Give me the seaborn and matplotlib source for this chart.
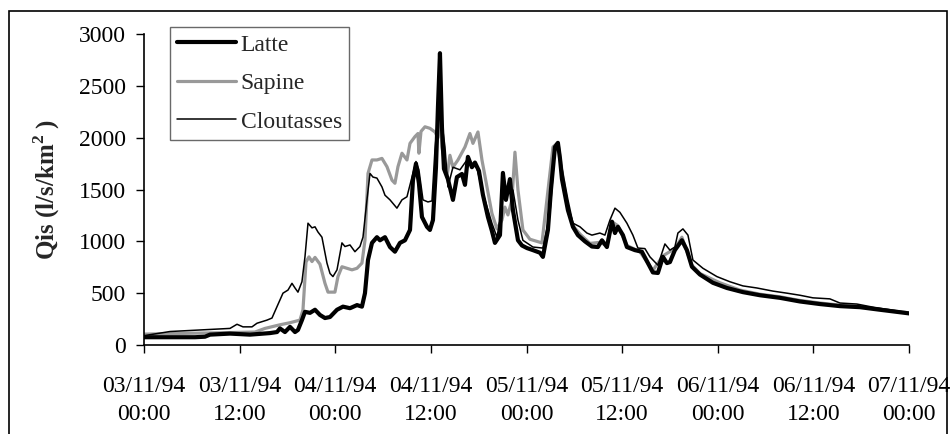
import matplotlib
matplotlib.use("Agg")
import matplotlib.pyplot as plt
import seaborn as sns
from matplotlib.patches import Rectangle

# hours since 03/11/94 00:00 and specific discharge (l/s/km2)
latte_hours = [0, 3.26, 6.40, 7.65, 8.28, 10.79, 13.30, 15.81, 16.69, 17.06, 17.69, 18.32,
               18.95, 19.32, 19.82, 20.20, 20.83, 21.46, 22.08, 22.71, 23.34, 24.22, 24.97,
               25.85, 26.73, 27.35, 27.73, 28.11, 28.61, 29.23, 29.61, 30.24, 30.87, 31.49,
               32.12, 32.75, 33.38, 33.75, 34.13, 34.50, 34.88, 35.51, 35.88, 36.26, 36.64,
               36.89, 37.14, 37.39, 37.64, 38.14, 38.77, 39.27, 39.90, 40.28, 40.65, 41.15,
               41.53, 42.03, 42.53, 43.16, 43.66, 44.04, 44.67, 45.04, 45.42, 45.92, 46.30,
               46.93, 47.43, 48.06, 48.81, 49.69, 50.06, 50.69, 51.07, 51.57, 51.94, 52.20,
               52.45, 53.20, 53.83, 54.45, 55.33, 56.21, 56.96, 57.47, 58.09, 58.72, 59.10,
               59.47, 60.10, 60.60, 61.61, 62.48, 63.24, 63.86, 64.49, 65.12, 65.62, 66.00,
               66.62, 67.50, 68.13, 68.76, 69.76, 71.39, 73.15, 75.16, 77.29, 79.80, 82.31,
               84.82, 87.33, 89.84, 92.35, 96.0]
latte_qis = [75, 75, 75, 80, 100, 110, 100, 115, 125, 160, 125, 175,
             125, 145, 240, 320, 310, 340, 290, 260, 270, 340, 370,
             355, 385, 370, 500, 820, 985, 1040, 1010, 1040, 945, 900,
             985, 1010, 1110, 1590, 1750, 1560, 1235, 1140, 1110, 1205, 1715,
             2300, 2815, 2100, 1700, 1600, 1400, 1620, 1650, 1545, 1815, 1715,
             1760, 1680, 1450, 1235, 1100, 985, 1060, 1660, 1400, 1600, 1300,
             1010, 960, 935, 915, 890, 850, 1110, 1500, 1910, 1950, 1800,
             1600, 1300, 1140, 1060, 1000, 950, 945, 1010, 945, 1190, 1080,
             1140, 1060, 945, 915, 900, 790, 700, 695, 850, 790, 800,
             915, 1010, 915, 755, 680, 600, 550, 510, 480, 455, 420,
             395, 375, 365, 340, 305]

sapine_hours = [0, 10.79, 13.93, 15.18, 17.06, 18.32, 19.57, 19.95, 20.33, 20.70, 21.08,
                21.46, 22.08, 22.71, 23.09, 23.96, 24.34, 24.84, 25.47, 26.10, 26.73, 27.35,
                27.73, 28.11, 28.61, 29.23, 29.86, 30.49, 31.12, 31.49, 31.87, 32.37, 33.00,
                33.38, 34.00, 34.38, 34.50, 34.76, 35.26, 35.88, 36.51, 36.89, 37.14, 37.39,
                38.02, 38.39, 38.77, 39.40, 40.28, 40.90, 41.28, 41.91, 42.41, 43.04, 43.66,
                44.29, 44.92, 45.29, 45.67, 46.17, 46.55, 46.93, 47.55, 48.43, 49.94, 51.32,
                51.94, 52.57, 53.20, 53.83, 54.71, 55.96, 57.21, 58.09, 58.72, 59.47, 60.60,
                62.23, 63.86, 65.12, 66.62, 67.50, 68.76, 69.76, 72.27, 74.78, 77.29, 79.80,
                82.31, 84.82, 87.33, 89.84, 92.35, 96.0]
sapine_qis = [105, 120, 125, 160, 195, 215, 240, 340, 800, 850, 805,
              845, 780, 595, 510, 510, 660, 755, 740, 725, 740, 790,
              1010, 1655, 1785, 1785, 1800, 1720, 1590, 1560, 1720, 1850, 1785,
              1945, 2010, 2040, 1850, 2060, 2105, 2090, 2055, 2000, 2270, 1910,
              1620, 1830, 1715, 1785, 1910, 2040, 1945, 2055, 1785, 1525, 1270,
              1120, 1205, 1330, 1255, 1400, 1860, 1495, 1110, 1020, 985, 1910,
              1950, 1620, 1310, 1150, 1070, 980, 990, 960, 1190, 1150, 960,
              900, 720, 860, 930, 1040, 770, 690, 600, 530, 490, 465,
              430, 405, 385, 370, 345, 310]

clout_hours = [0, 3.26, 7.03, 10.79, 11.67, 12.42, 13.55, 14.18, 15.43, 16.06, 16.69,
               17.44, 18.07, 18.57, 18.95, 19.32, 19.82, 20.20, 20.58, 21.08, 21.46, 21.83,
               22.33, 22.96, 23.34, 23.71, 24.22, 24.84, 25.22, 25.85, 26.47, 27.10, 27.48,
               27.98, 28.36, 28.73, 29.23, 29.86, 30.24, 30.87, 31.74, 32.37, 33.00, 33.63,
               34.13, 34.50, 35.01, 35.63, 36.14, 36.51, 36.89, 37.39, 37.77, 38.14, 38.77,
               39.65, 40.53, 41.15, 41.78, 42.53, 43.66, 44.29, 44.67, 45.04, 45.67, 46.30,
               46.93, 47.55, 48.81, 50.06, 50.94, 51.57, 51.94, 52.57, 53.20, 53.83, 54.71,
               55.58, 56.21, 57.21, 57.84, 58.47, 59.10, 59.72, 60.60, 61.35, 61.98, 62.86,
               63.49, 64.49, 65.37, 66.00, 66.62, 67.00, 67.63, 68.26, 68.88, 70.14, 71.89,
               73.53, 75.16, 76.91, 78.92, 80.68, 82.31, 83.94, 86.07, 87.33, 89.46, 91.47,
               93.60, 96.0]
clout_qis = [90, 130, 145, 160, 200, 175, 175, 210, 240, 260, 370,
             500, 530, 595, 550, 510, 610, 850, 1175, 1130, 1140, 1090,
             1040, 790, 690, 660, 725, 985, 950, 965, 900, 950, 1040,
             1400, 1655, 1620, 1610, 1525, 1445, 1400, 1320, 1400, 1430, 1620,
             1770, 1690, 1400, 1380, 1390, 1880, 2220, 2140, 1910, 1525, 1715,
             1690, 1785, 1750, 1705, 1465, 1175, 1040, 1205, 1560, 1495, 1495,
             1205, 1010, 945, 935, 1270, 1880, 1930, 1655, 1400, 1175, 1140,
             1080, 1060, 1080, 1060, 1205, 1320, 1280, 1175, 1060, 935, 930,
             850, 770, 975, 915, 945, 1080, 1120, 1060, 820, 740, 660,
             610, 570, 550, 520, 500, 480, 455, 445, 405, 395, 365,
             340, 310]

tick_hours = [0, 12, 24, 36, 48, 60, 72, 84, 96]
tick_labels = ["03/11/94\n00:00", "03/11/94\n12:00", "04/11/94\n00:00", "04/11/94\n12:00",
               "05/11/94\n00:00", "05/11/94\n12:00", "06/11/94\n00:00", "06/11/94\n12:00",
               "07/11/94\n00:00"]
y_ticks = [0, 500, 1000, 1500, 2000, 2500, 3000]

sns.set_style("white")
plt.rcParams['font.family'] = ['Liberation Serif', 'DejaVu Serif']
plt.rcParams['mathtext.fontset'] = 'custom'
plt.rcParams['mathtext.rm'] = 'Liberation Serif'
plt.rcParams['mathtext.bf'] = 'Liberation Serif:bold'

fig = plt.figure(figsize=(9.51, 4.34), dpi=100)
ax = fig.add_axes([144 / 951, 1 - 345 / 434, 765 / 951, 311 / 434])

# draw order: Sapine under Latte, Cloutasses on top
sns.lineplot(x=sapine_hours, y=sapine_qis, ax=ax, color="#999999", linewidth=2.3,
             label="Sapine", zorder=2)
sns.lineplot(x=latte_hours, y=latte_qis, ax=ax, color="black", linewidth=3.0,
             label="Latte", zorder=3)
sns.lineplot(x=clout_hours, y=clout_qis, ax=ax, color="black", linewidth=1.1,
             label="Cloutasses", zorder=4)

ax.set_xlim(0, 96)
ax.set_ylim(0, 3000)
ax.set_xticks(tick_hours)
ax.set_xticklabels(tick_labels, linespacing=1.45)
ax.set_yticks(y_ticks)
ax.tick_params(axis="x", direction="out", length=6, width=1, pad=16, labelsize=17,
               bottom=True, colors="black")
ax.tick_params(axis="y", direction="out", length=6, width=1, pad=7, labelsize=17,
               left=True, colors="black")
for s in ["top", "right"]:
    ax.spines[s].set_visible(False)
for s in ["left", "bottom"]:
    ax.spines[s].set_color("black")
    ax.spines[s].set_linewidth(1.2)

ax.set_xlabel("")
ax.set_ylabel(r"Qis (l/s/km$^{\mathbf{2}}$ )", fontsize=18, fontweight="bold", labelpad=12)

handles, labels = ax.get_legend_handles_labels()
order = [1, 0, 2]
leg = fig.legend([handles[i] for i in order], [labels[i] for i in order],
                 loc="upper left", bbox_to_anchor=(170 / 951, 1 - 27 / 434),
                 fontsize=17, frameon=True, fancybox=False, borderpad=0.3,
                 labelspacing=0.72, handlelength=2.5, handletextpad=0.2,
                 borderaxespad=0)
leg.get_frame().set_edgecolor("#444444")
leg.get_frame().set_linewidth(1.0)
if ax.get_legend():
    ax.get_legend().remove()

# outer frame of the chart area
fig.patches.append(Rectangle((9 / 951, -0.05), 938 / 951, 1.05 - 11 / 434,
                             transform=fig.transFigure, fill=False,
                             edgecolor="black", linewidth=1.2))

fig.savefig("out.png", dpi=100)
